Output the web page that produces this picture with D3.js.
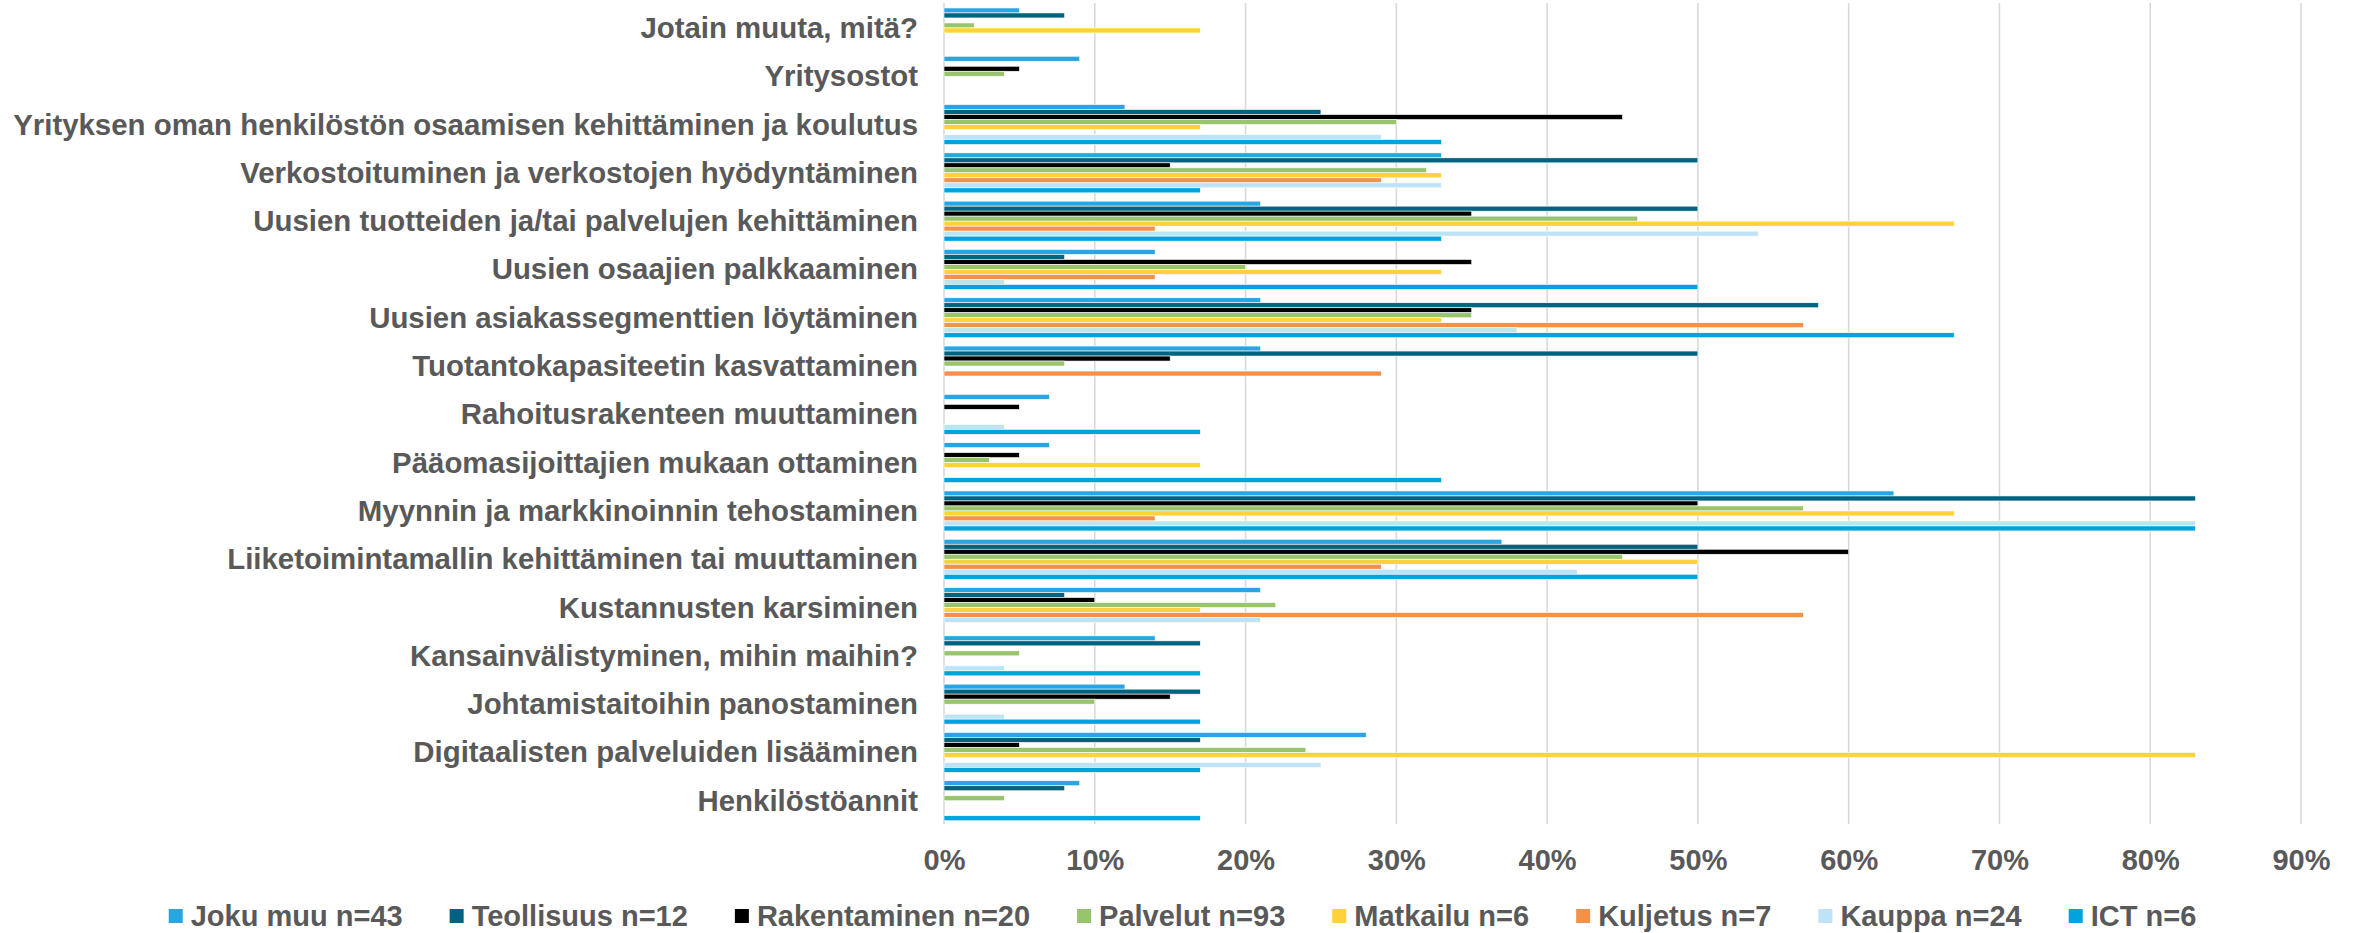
<!DOCTYPE html>
<html>
<head>
<meta charset="utf-8">
<script src="https://cdnjs.cloudflare.com/ajax/libs/d3/7.8.5/d3.min.js"></script>
<style>
  html, body { margin: 0; padding: 0; background: #fff; }
  svg { display: block; }
  text { font-family: "Liberation Sans", Arial, sans-serif; font-weight: bold; fill: #595959; }
</style>
</head>
<body>
<svg id="chart" width="2361" height="933"></svg>
<script>
// Categories, listed top to bottom
const categories = [
  "Jotain muuta, mitä?",
  "Yritysostot",
  "Yrityksen oman henkilöstön osaamisen kehittäminen ja koulutus",
  "Verkostoituminen ja verkostojen hyödyntäminen",
  "Uusien tuotteiden ja/tai palvelujen kehittäminen",
  "Uusien osaajien palkkaaminen",
  "Uusien asiakassegmenttien löytäminen",
  "Tuotantokapasiteetin kasvattaminen",
  "Rahoitusrakenteen muuttaminen",
  "Pääomasijoittajien mukaan ottaminen",
  "Myynnin ja markkinoinnin tehostaminen",
  "Liiketoimintamallin kehittäminen tai muuttaminen",
  "Kustannusten karsiminen",
  "Kansainvälistyminen, mihin maihin?",
  "Johtamistaitoihin panostaminen",
  "Digitaalisten palveluiden lisääminen",
  "Henkilöstöannit"
];

// Share of respondents (%) per sector, in category order
const jokuMuu      = [5, 9, 12, 33, 21, 14, 21, 21, 7, 7, 63, 37, 21, 14, 12, 28, 9];
const teollisuus   = [8, 0, 25, 50, 50, 8, 58, 50, 0, 0, 83, 50, 8, 17, 17, 17, 8];
const rakentaminen = [0, 5, 45, 15, 35, 35, 35, 15, 5, 5, 50, 60, 10, 0, 15, 5, 0];
const palvelut     = [2, 4, 30, 32, 46, 20, 35, 8, 0, 3, 57, 45, 22, 5, 10, 24, 4];
const matkailu     = [17, 0, 17, 33, 67, 33, 33, 0, 0, 17, 67, 50, 17, 0, 0, 83, 0];
const kuljetus     = [0, 0, 0, 29, 14, 14, 57, 29, 0, 0, 14, 29, 57, 0, 0, 0, 0];
const kauppa       = [0, 0, 29, 33, 54, 4, 38, 0, 4, 0, 83, 42, 21, 4, 4, 25, 0];
const ict          = [0, 0, 33, 17, 33, 50, 67, 0, 17, 33, 83, 50, 0, 17, 17, 17, 17];

const seriesNames = ["Joku muu n=43", "Teollisuus n=12", "Rakentaminen n=20", "Palvelut n=93",
                     "Matkailu n=6", "Kuljetus n=7", "Kauppa n=24", "ICT n=6"];
const seriesValues = [jokuMuu, teollisuus, rakentaminen, palvelut, matkailu, kuljetus, kauppa, ict];
const seriesColors = ["#29A6E1", "#01637F", "#000000", "#97C46C", "#FFD13A", "#F2914A", "#BEE3F6", "#00A4DC"];

const tickValues = [0, 10, 20, 30, 40, 50, 60, 70, 80, 90];

const svg = d3.select("#chart");
const fontSize = 29;
const labelFontSize = 29.4;

const x = d3.scaleLinear().domain([0, 90]).range([944, 2301]);
const y = d3.scaleBand().domain(categories).range([3.8, 824.9]).paddingInner(0.172).paddingOuter(0.086);
const ySeries = d3.scaleBand().domain(d3.range(seriesNames.length)).range([0, y.bandwidth()]);

// Vertical gridlines
svg.append("g")
  .selectAll("line")
  .data(tickValues)
  .join("line")
  .attr("x1", d => x(d)).attr("x2", d => x(d))
  .attr("y1", 3).attr("y2", 824)
  .attr("stroke", "#D9D9D9")
  .attr("stroke-width", 1.6);

// Bars
const rows = [];
seriesValues.forEach((vals, si) => {
  vals.forEach((v, ci) => rows.push({ si, cat: categories[ci], v }));
});

svg.append("g")
  .selectAll("rect")
  .data(rows.filter(d => d.v > 0))
  .join("rect")
  .attr("x", x(0))
  .attr("y", d => y(d.cat) + ySeries(d.si))
  .attr("width", d => x(d.v) - x(0))
  .attr("height", ySeries.bandwidth())
  .attr("fill", d => seriesColors[d.si])
  .attr("stroke", "#ffffff")
  .attr("stroke-width", 0.6);

// Category labels
const yAxis = d3.axisLeft(y).tickSize(0).tickPadding(26);
const yg = svg.append("g").attr("transform", `translate(${x(0)},0)`).call(yAxis);
yg.select(".domain").remove();
yg.selectAll("text")
  .attr("font-size", labelFontSize)
  .attr("font-family", null)
  .attr("dy", "0.34em")
  .style("fill", "#595959");

// Percentage axis labels
const xAxis = d3.axisBottom(x).tickValues(tickValues).tickSize(0).tickPadding(0).tickFormat(d => d + "%");
const xg = svg.append("g").attr("transform", "translate(0,849)").call(xAxis);
xg.select(".domain").remove();
xg.selectAll("text")
  .attr("font-size", fontSize)
  .attr("font-family", null)
  .attr("y", 0)
  .attr("dy", "0.72em")
  .style("fill", "#595959");

// Legend, centred below the axis
const legendGap = 47;
const legend = svg.append("g");
const items = legend.selectAll("g")
  .data(seriesNames)
  .join("g");
items.append("rect")
  .attr("width", 14).attr("height", 14)
  .attr("y", -7)
  .attr("fill", (d, i) => seriesColors[i]);
items.append("text")
  .attr("x", 22)
  .attr("dy", "0.35em")
  .attr("font-size", fontSize)
  .text(d => d);

let cursor = 0;
items.each(function () {
  const g = d3.select(this);
  g.attr("transform", `translate(${cursor},0)`);
  cursor += 22 + g.select("text").node().getComputedTextLength() + legendGap;
});
const legendWidth = cursor - legendGap;
legend.attr("transform", `translate(${(2361 - legendWidth) / 2 + 2},916)`);
</script>
</body>
</html>
